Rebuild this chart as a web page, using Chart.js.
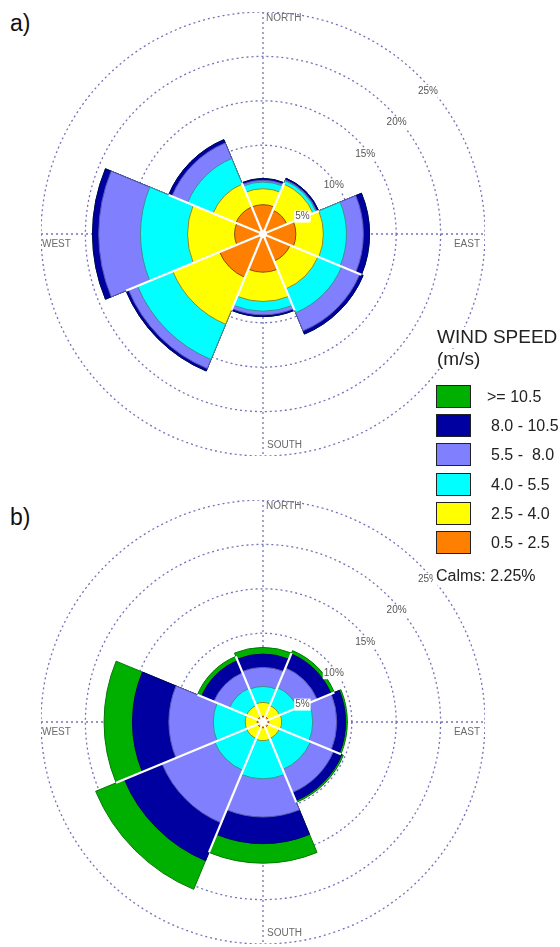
<!DOCTYPE html>
<html>
<head>
<meta charset="utf-8">
<title>Wind roses</title>
<script src="https://cdn.jsdelivr.net/npm/chart.js@4"></script>
<style>
  body { margin: 0; background: #fff; font-family: "Liberation Sans", Arial, sans-serif; }
  #page { position: relative; width: 560px; height: 947px; overflow: hidden; }
  canvas { position: absolute; }
  #roseA { left: 41px; top: 12px; }
  #roseB { left: 41px; top: 500px; }
  .tag { position: absolute; left: 10px; font-size: 23px; line-height: 23px; color: #111; }
  .lg { position: absolute; color: #222; white-space: pre; background: #fff; }
  .lg.title { font-size: 19px; line-height: 20px; }
  .lg.item { font-size: 16px; line-height: 18px; }
  .box { position: absolute; width: 33px; height: 21px; border: 1.5px solid #222; }
</style>
</head>
<body>
<div id="page">
  <div class="tag" style="top:12px">a)</div>
  <div class="tag" style="top:506px">b)</div>
  <canvas id="roseA" width="444" height="444"></canvas>
  <canvas id="roseB" width="444" height="444"></canvas>
  <div id="legend"></div>
</div>
<script>
// wind directions, clockwise from north
const DIRS = ['N', 'NE', 'E', 'SE', 'S', 'SW', 'W', 'NW'];
// speed classes, inner to outer
const SPEED_CLASSES = ['0.5 - 2.5', '2.5 - 4.0', '4.0 - 5.5', '5.5 -  8.0', '8.0 - 10.5', '>= 10.5'];
const FILL = ['#ff8000', '#ffff00', '#00ffff', '#8080ff', '#0000a0', '#00b000'];
const EDGE = ['#8a4a10', '#8c8c30', '#3f8f8f', '#5a5ab0', '#000070', '#007a00'];
const CALMS = 'Calms: 2.25%';

// a) frequency (%) per speed class and direction
const A_05_25  = [3.3, 2.9, 3.7, 3.3, 4.3, 5.3, 3.2, 3.3];
const A_25_40  = [1.8, 3.2, 3.1, 3.4, 3.3, 5.7, 5.3, 2.8];
const A_40_55  = [0.75, 0.4, 2.6, 2.9, 1.1, 4.3, 5.3, 3.1];
const A_55_80  = [0.2, 0.1, 1.9, 2.2, 0.4, 1.1, 4.7, 1.9];
const A_80_105 = [0.2, 0.2, 0.7, 0.4, 0.2, 0.3, 0.7, 0.4];
const A_105    = [0, 0, 0, 0, 0, 0, 0, 0];

// b) frequency (%) per speed class and direction
const B_05_25  = [0.65, 0.65, 0.65, 0.65, 0.65, 0.65, 0.65, 0.65];
const B_25_40  = [1.55, 1.35, 1.45, 1.35, 1.45, 1.35, 1.35, 1.35];
const B_40_55  = [1.8, 2.2, 3.5, 3.8, 4.3, 3.9, 3.6, 2.1];
const B_55_80  = [2.15, 2.4, 2.7, 2.8, 4.3, 6.4, 5.0, 1.9];
const B_80_105 = [1.5, 1.7, 1.0, 1.0, 3.0, 4.6, 4.1, 1.5];
const B_105    = [0.75, 0.4, 0.2, 0.2, 2.2, 3.5, 3.2, 0.5];

// white hub in the middle of each rose
const HUB = [0.45, 0.45, 0.45, 0.45, 0.45, 0.45, 0.45, 0.45];

const TICK_VALUES = [5, 10, 15, 20, 25];
const TICK_LABELS = ['5%', '10%', '15%', '20%', '25%'];
const COMPASS = ['NORTH', 'EAST', 'SOUTH', 'WEST'];
const GRID = '#7373ba';
const FONT = '"Liberation Sans", Arial, sans-serif';

// polar area has no stacking: each class is drawn as a cumulative slice,
// dataset 0 is painted last so the inner classes sit on top
function buildDatasets(classes) {
  const sets = [{ label: 'hub', data: HUB, backgroundColor: '#fff', borderWidth: 0 }];
  let run = DIRS.map(() => 0);
  classes.forEach((vals, i) => {
    run = run.map((s, k) => s + vals[k]);
    sets.push({ label: SPEED_CLASSES[i], data: run.slice(), backgroundColor: FILL[i], borderColor: EDGE[i], borderWidth: 1 });
  });
  return sets;
}

const roseDeco = {
  id: 'roseDeco',
  beforeDatasetsDraw(chart) {
    const r = chart.scales.r, ctx = chart.ctx;
    const R = r.drawingArea, cx = r.xCenter, cy = r.yCenter;
    ctx.save();
    ctx.strokeStyle = GRID; ctx.lineWidth = 1.3; ctx.setLineDash([2, 3]);
    ctx.beginPath();
    ctx.moveTo(cx, cy - R); ctx.lineTo(cx, cy + R);
    ctx.moveTo(cx - R, cy); ctx.lineTo(cx + R, cy);
    ctx.stroke();
    ctx.restore();
  },
  afterDatasetsDraw(chart) {
    const r = chart.scales.r, ctx = chart.ctx;
    const R = r.drawingArea, cx = r.xCenter, cy = r.yCenter;
    // white gaps between neighbouring wedges
    const outer = chart.getDatasetMeta(chart.data.datasets.length - 1).data;
    ctx.save();
    ctx.strokeStyle = '#fff'; ctx.lineWidth = 2.2;
    outer.forEach((arc, k) => {
      const next = outer[(k + 1) % outer.length];
      const len = Math.min(arc.outerRadius, next.outerRadius);
      if (len <= 0) return;
      ctx.beginPath();
      ctx.moveTo(cx, cy);
      ctx.lineTo(cx + Math.cos(arc.endAngle) * len, cy + Math.sin(arc.endAngle) * len);
      ctx.stroke();
    });
    // ring labels
    ctx.font = '10px ' + FONT;
    ctx.textAlign = 'center'; ctx.textBaseline = 'middle';
    TICK_VALUES.forEach((v, i) => {
      const d = r.getDistanceFromCenterForValue(v);
      const x = cx + d * Math.SQRT1_2 + 8, y = cy - d * Math.SQRT1_2 + 14;
      const w = ctx.measureText(TICK_LABELS[i]).width;
      ctx.fillStyle = '#fff';
      ctx.fillRect(x - w / 2 - 1, y - 6, w + 2, 12);
      ctx.fillStyle = '#555';
      ctx.fillText(TICK_LABELS[i], x, y);
    });
    // compass labels
    ctx.fillStyle = '#6a6a6a';
    ctx.textAlign = 'left';
    ctx.fillText(COMPASS[0], cx + 3, cy - R + 6);
    ctx.fillText(COMPASS[2], cx + 4, cy + R - 11);
    ctx.fillText(COMPASS[3], cx - R + 1, cy + 10);
    ctx.textAlign = 'right';
    ctx.fillText(COMPASS[1], cx + R - 5, cy + 10);
    ctx.restore();
  }
};

function rose(id, classes) {
  return new Chart(document.getElementById(id), {
    type: 'polarArea',
    data: { labels: DIRS, datasets: buildDatasets(classes) },
    options: {
      responsive: false,
      animation: false,
      layout: { padding: 0 },
      plugins: { legend: { display: false }, tooltip: { enabled: false } },
      scales: {
        r: {
          min: 0, max: 25, startAngle: -22.5,
          ticks: { display: false, stepSize: 5 },
          grid: { color: GRID, lineWidth: 1.3, circular: true },
          border: { dash: [2, 3] },
          angleLines: { display: false },
          pointLabels: { display: false }
        }
      }
    },
    plugins: [roseDeco]
  });
}

rose('roseA', [A_05_25, A_25_40, A_40_55, A_55_80, A_80_105, A_105]);
rose('roseB', [B_05_25, B_25_40, B_40_55, B_55_80, B_80_105, B_105]);

// legend (outermost class first)
const lg = document.getElementById('legend');
let html = '<div class="lg title" style="left:437px;top:327px">WIND SPEED</div>' +
           '<div class="lg title" style="left:437px;top:349px">(m/s)</div>';
SPEED_CLASSES.slice().reverse().forEach((t, i) => {
  const top = 385 + i * 29.2;
  const col = FILL[SPEED_CLASSES.length - 1 - i];
  const left = t.startsWith('>') ? 487 : 491;
  html += '<div class="box" style="left:436px;top:' + top + 'px;background:' + col + '"></div>' +
          '<div class="lg item" style="left:' + left + 'px;top:' + (top + 3) + 'px">' + t + '</div>';
});
html += '<div class="lg item" style="left:433px;top:567px;padding-left:3px">' + CALMS + '</div>';
lg.innerHTML = html;
</script>
</body>
</html>
